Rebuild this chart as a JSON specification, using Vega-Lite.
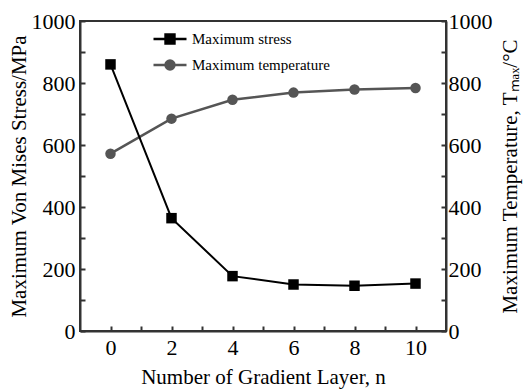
{
  "$schema": "https://vega.github.io/schema/vega-lite/v6.json",
  "autosize": {"type": "none"},
  "padding": {"left": 80, "top": 21, "right": 80, "bottom": 59},
  "width": 366,
  "height": 310,
  "background": "white",
  "config": {
    "font": "Liberation Serif",
    "view": {"stroke": "#333", "strokeWidth": 2},
    "axis": {
      "labelFont": "Liberation Serif",
      "titleFont": "Liberation Serif",
      "labelFontSize": 22,
      "titleFontSize": 21,
      "titleFontWeight": "normal",
      "labelColor": "black",
      "titleColor": "black",
      "domainColor": "#333",
      "domainWidth": 2,
      "tickColor": "#333",
      "tickWidth": 2,
      "grid": false
    },
    "legend": {
      "labelFont": "Liberation Serif",
      "labelFontSize": 15,
      "labelColor": "black",
      "padding": 0
    }
  },
  "data": {
    "values": [
      {"n": 0, "stress": 860, "temp": 572, "s1": "Maximum stress", "s2": "Maximum temperature"},
      {"n": 2, "stress": 364, "temp": 685, "s1": "Maximum stress", "s2": "Maximum temperature"},
      {"n": 4, "stress": 177, "temp": 746, "s1": "Maximum stress", "s2": "Maximum temperature"},
      {"n": 6, "stress": 150, "temp": 769, "s1": "Maximum stress", "s2": "Maximum temperature"},
      {"n": 8, "stress": 146, "temp": 779, "s1": "Maximum stress", "s2": "Maximum temperature"},
      {"n": 10, "stress": 153, "temp": 784, "s1": "Maximum stress", "s2": "Maximum temperature"}
    ]
  },
  "encoding": {
    "x": {
      "field": "n",
      "type": "quantitative",
      "scale": {"domain": [-1, 11], "nice": false, "zero": false},
      "axis": {
        "title": "Number of Gradient Layer, n",
        "values": [0, 1, 2, 3, 4, 5, 6, 7, 8, 9, 10],
        "labelExpr": "datum.value % 2 == 0 ? datum.label : ''",
        "tickSize": -5,
        "labelPadding": 11,
        "titlePadding": 8,
        "labelFlush": false
      }
    }
  },
  "layer": [
    {
      "encoding": {
        "y": {
          "field": "temp",
          "type": "quantitative",
          "scale": {"domain": [0, 1000], "nice": false},
          "axis": {
            "orient": "right",
            "title": "Maximum Temperature, Tₘₐₓ/°C",
            "titleAngle": 270,
            "titleBaseline": "bottom",
            "values": [0, 100, 200, 300, 400, 500, 600, 700, 800, 900, 1000],
            "labelExpr": "datum.value % 200 == 0 ? datum.label : ''",
            "format": "d",
            "tickSize": -5,
            "labelPadding": 7,
            "titlePadding": 28,
            "labelFlush": false
          }
        },
        "color": {
          "field": "s2",
          "type": "nominal",
          "scale": {"range": ["#555555"]},
          "legend": {
            "title": null,
            "orient": "none",
            "legendX": 72,
            "legendY": 26,
            "symbolType": "M-1,0H1M0.27,0A0.27,0.27,0,1,1,-0.27,0A0.27,0.27,0,1,1,0.27,0Z",
            "symbolSize": 1089,
            "symbolStrokeWidth": 2.5,
            "symbolFillColor": "#555555",
            "symbolStrokeColor": "#666666",
            "labelOffset": 4
          }
        }
      },
      "layer": [
        {"mark": {"type": "line", "strokeWidth": 2.5, "color": "#666666"}},
        {"mark": {"type": "point", "shape": "circle", "filled": true, "size": 110, "opacity": 1, "color": "#555555"}}
      ]
    },
    {
      "encoding": {
        "y": {
          "field": "stress",
          "type": "quantitative",
          "scale": {"domain": [0, 1000], "nice": false},
          "axis": {
            "orient": "left",
            "title": "Maximum Von Mises Stress/MPa",
            "values": [0, 100, 200, 300, 400, 500, 600, 700, 800, 900, 1000],
            "labelExpr": "datum.value % 200 == 0 ? datum.label : ''",
            "format": "d",
            "tickSize": -5,
            "labelPadding": 10,
            "titlePadding": 2,
            "labelFlush": false
          }
        },
        "color": {
          "field": "s1",
          "type": "nominal",
          "scale": {"range": ["#000000"]},
          "legend": {
            "title": null,
            "orient": "none",
            "legendX": 72,
            "legendY": 0,
            "symbolType": "M-1,0H1M-0.27,-0.27H0.27V0.27H-0.27Z",
            "symbolSize": 1089,
            "symbolStrokeWidth": 2.5,
            "symbolFillColor": "#000000",
            "symbolStrokeColor": "#000000",
            "labelOffset": 4
          }
        }
      },
      "layer": [
        {"mark": {"type": "line", "strokeWidth": 2, "color": "#111111"}},
        {"mark": {"type": "square", "filled": true, "size": 110, "opacity": 1, "color": "#000000"}}
      ]
    }
  ],
  "resolve": {"scale": {"y": "independent", "color": "independent"}}
}
